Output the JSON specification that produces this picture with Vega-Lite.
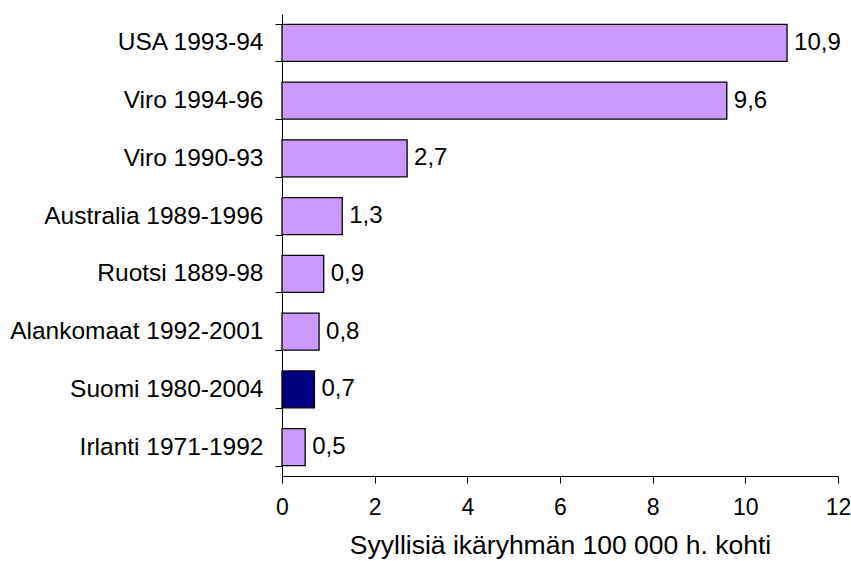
{
  "$schema": "https://vega.github.io/schema/vega-lite/v6.json",
  "width": 556,
  "height": 462,
  "autosize": "none",
  "padding": {"left": 282, "top": 14, "right": 13, "bottom": 85},
  "background": "white",
  "config": {"view": {"stroke": null}, "font": "Liberation Sans"},
  "data": {
    "values": [
      {"maa": "USA 1993-94", "arvo": 10.9, "teksti": "10,9", "suomi": "ei"},
      {"maa": "Viro 1994-96", "arvo": 9.6, "teksti": "9,6", "suomi": "ei"},
      {"maa": "Viro 1990-93", "arvo": 2.7, "teksti": "2,7", "suomi": "ei"},
      {"maa": "Australia 1989-1996", "arvo": 1.3, "teksti": "1,3", "suomi": "ei"},
      {"maa": "Ruotsi 1889-98", "arvo": 0.9, "teksti": "0,9", "suomi": "ei"},
      {"maa": "Alankomaat 1992-2001", "arvo": 0.8, "teksti": "0,8", "suomi": "ei"},
      {"maa": "Suomi 1980-2004", "arvo": 0.7, "teksti": "0,7", "suomi": "kyllä"},
      {"maa": "Irlanti 1971-1992", "arvo": 0.5, "teksti": "0,5", "suomi": "ei"}
    ]
  },
  "encoding": {
    "y": {
      "field": "maa", "type": "nominal", "sort": null,
      "scale": {"paddingInner": 0.36, "paddingOuter": 0.18},
      "axis": {
        "title": null, "tickBand": "extent", "domainColor": "black", "tickColor": "black",
        "tickSize": 7, "labelPadding": 12, "labelFontSize": 24.5, "labelColor": "black",
        "labelFont": "Liberation Sans", "labelLimit": 400
      }
    }
  },
  "layer": [
    {
      "mark": {"type": "bar", "stroke": "black", "strokeWidth": 1.3},
      "encoding": {
        "x": {
          "field": "arvo", "type": "quantitative",
          "scale": {"domain": [0, 12]},
          "axis": {
            "values": [0, 2, 4, 6, 8, 10, 12], "grid": false,
            "title": "Syyllisiä ikäryhmän 100 000 h. kohti",
            "titleFontSize": 26.5, "titleFontWeight": "normal", "titleColor": "black",
            "titlePadding": 13, "titleFont": "Liberation Sans",
            "labelFontSize": 23, "labelColor": "black", "labelPadding": 13,
            "labelFlush": false, "labelFont": "Liberation Sans",
            "domainColor": "black", "tickColor": "black", "tickSize": 7
          }
        },
        "color": {
          "field": "suomi", "type": "nominal",
          "scale": {"domain": ["ei", "kyllä"], "range": ["#CC99FF", "#000080"]},
          "legend": null
        }
      }
    },
    {
      "mark": {"type": "text", "align": "left", "baseline": "middle", "dx": 7, "fontSize": 24, "color": "black", "font": "Liberation Sans"},
      "encoding": {
        "x": {"field": "arvo", "type": "quantitative"},
        "text": {"field": "teksti"}
      }
    }
  ]
}
